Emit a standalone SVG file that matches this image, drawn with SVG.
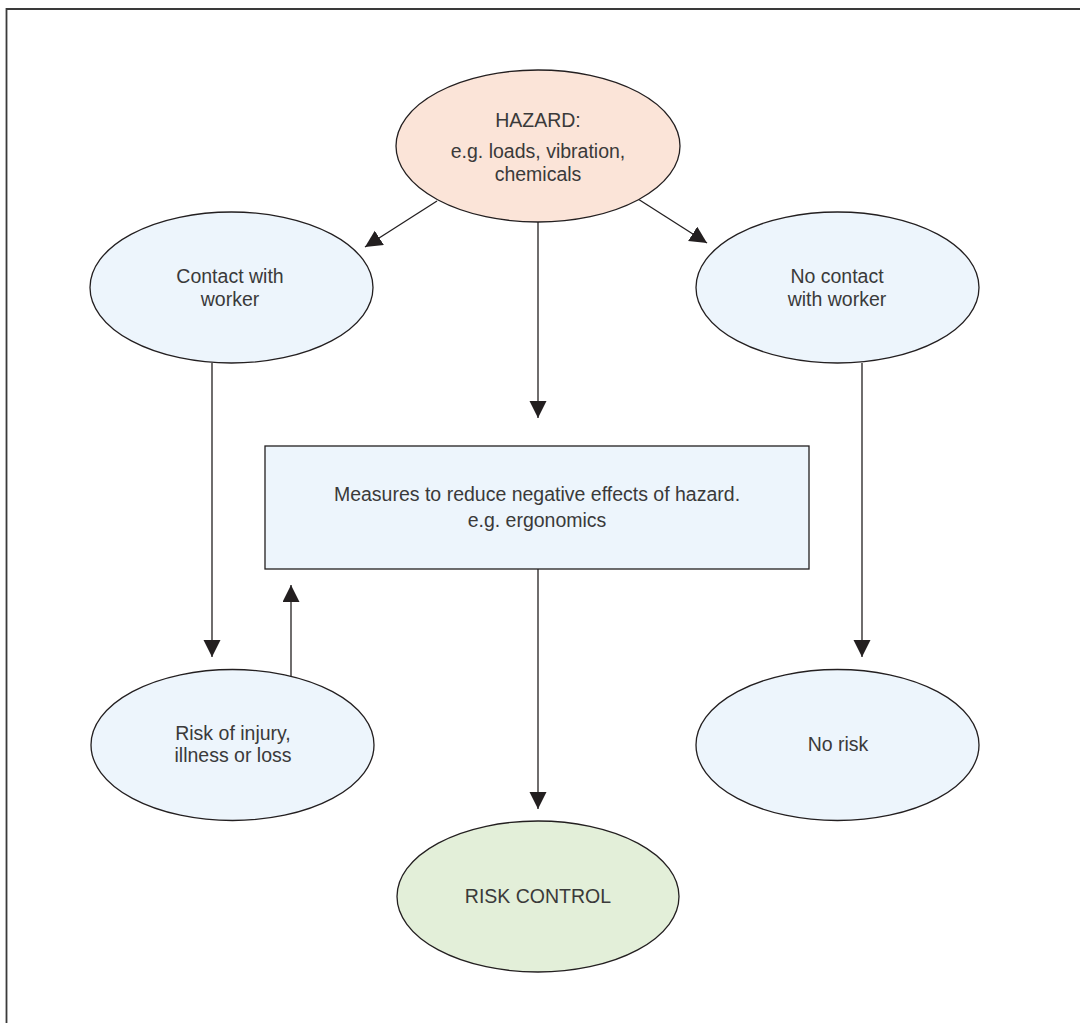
<svg xmlns="http://www.w3.org/2000/svg" width="1080" height="1023" viewBox="0 0 1080 1023">
  <defs>
    <marker id="arrow" markerUnits="userSpaceOnUse" markerWidth="18" markerHeight="18" refX="17" refY="8.5" orient="auto">
      <path d="M0,0 L17,8.5 L0,17 Z" fill="#231f20"/>
    </marker>
    <style>
      .node { stroke: #231f20; stroke-width: 1.3; }
      .hazard { fill: #fbe4d8; }
      .blue { fill: #edf5fc; }
      .green { fill: #e3efd9; }
      .label { font-family: "Liberation Sans", Arial, sans-serif; font-size: 19.5px; fill: #3a3a3a; text-anchor: middle; }
      .link { stroke: #231f20; stroke-width: 1.3; fill: none; marker-end: url(#arrow); }
      .frame { stroke: #3a3a3a; stroke-width: 1.8; fill: none; }
    </style>
  </defs>

  <rect width="1080" height="1023" fill="#ffffff"/>

  <!-- outer frame: top and left rules -->
  <path class="frame" d="M6.5,1023 L6.5,9 L1080,9"/>

  <g id="connectors">
    <line class="link" x1="437" y1="201" x2="365" y2="247"/>
    <line class="link" x1="638" y1="199" x2="707" y2="243"/>
    <line class="link" x1="538" y1="222" x2="538" y2="418"/>
    <line class="link" x1="212" y1="363" x2="212" y2="657"/>
    <line class="link" x1="291" y1="676" x2="291" y2="585"/>
    <line class="link" x1="862" y1="363" x2="862" y2="657"/>
    <line class="link" x1="538" y1="569" x2="538" y2="809"/>
  </g>

  <g id="hazard">
    <ellipse class="node hazard" cx="538" cy="146" rx="142" ry="76"/>
    <text class="label" x="538" y="127">HAZARD:</text>
    <text class="label" x="538" y="158">e.g. loads, vibration,</text>
    <text class="label" x="538" y="181">chemicals</text>
  </g>

  <g id="contact">
    <ellipse class="node blue" cx="231.5" cy="287.5" rx="141.5" ry="75.5"/>
    <text class="label" x="230" y="283">Contact with</text>
    <text class="label" x="230" y="306">worker</text>
  </g>

  <g id="no-contact">
    <ellipse class="node blue" cx="837.5" cy="287.5" rx="141.5" ry="75.5"/>
    <text class="label" x="837" y="283">No contact</text>
    <text class="label" x="837" y="306">with worker</text>
  </g>

  <g id="measures">
    <rect class="node blue" x="265" y="446" width="544" height="123"/>
    <text class="label" x="537" y="501">Measures to reduce negative effects of hazard.</text>
    <text class="label" x="537" y="527">e.g. ergonomics</text>
  </g>

  <g id="risk">
    <ellipse class="node blue" cx="232.5" cy="745" rx="141.5" ry="75.5"/>
    <text class="label" x="233" y="740">Risk of injury,</text>
    <text class="label" x="233" y="762">illness or loss</text>
  </g>

  <g id="no-risk">
    <ellipse class="node blue" cx="837.5" cy="745" rx="141.5" ry="75.5"/>
    <text class="label" x="838" y="751">No risk</text>
  </g>

  <g id="risk-control">
    <ellipse class="node green" cx="538" cy="896.5" rx="141" ry="75.5"/>
    <text class="label" x="538" y="903">RISK CONTROL</text>
  </g>
</svg>
